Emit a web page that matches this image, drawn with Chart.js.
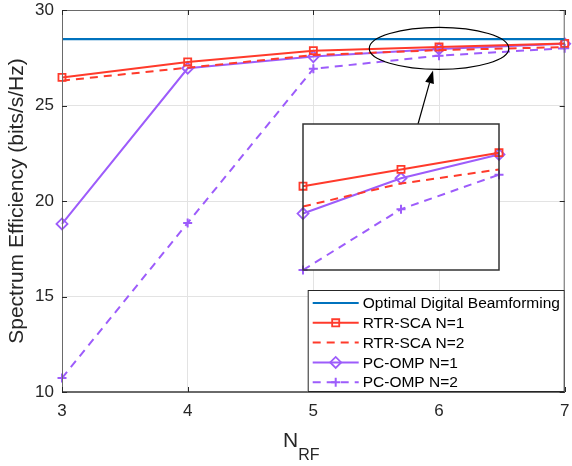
<!DOCTYPE html>
<html>
<head>
<meta charset="utf-8">
<script src="https://cdn.jsdelivr.net/npm/chart.js@4.4.1/dist/chart.umd.min.js"></script>
<style>
  html, body { margin: 0; padding: 0; background: #fff; }
  #wrap { position: relative; width: 572px; height: 466px; }
  #main { position: absolute; left: 0; top: 0; }
  #inset { position: absolute; left: 293px; top: 114px; }
</style>
</head>
<body>
<div id="wrap">
  <canvas id="main" width="572" height="466"></canvas>
  <canvas id="inset" width="216" height="166"></canvas>
</div>
<script>
// values
const nrf = [3, 4, 5, 6, 7];
const optimal = [28.48, 28.48, 28.48, 28.48, 28.48];
const rtrN1 = [26.47, 27.28, 27.87, 28.06, 28.25];
const rtrN2 = [26.3, 26.98, 27.64, 27.9, 28.06];
const ompN1 = [18.8, 26.95, 27.56, 27.96, 28.23];
const ompN2 = [10.73, 18.85, 26.92, 27.61, 28.0];
const seriesNames = ["Optimal Digital Beamforming", "RTR-SCA N=1", "RTR-SCA N=2", "PC-OMP N=1", "PC-OMP N=2"];
const yTicks = [10, 15, 20, 25, 30];
const xTicks = [3, 4, 5, 6, 7];

const FONT = "'Liberation Sans', Arial, Helvetica, sans-serif";
const TXT = "#262626";
const AXIS = "#6a6a6a";
const BLUE = "#0072BD";
const RED = "#FF3A2B";
const PURPLE = "#9D5CFB";

function pts(vals, from) {
  return nrf.slice(from).map((x, i) => ({ x: x, y: vals[from + i] }));
}

function makeDatasets(from) {
  return [
    { label: seriesNames[0], data: pts(optimal, from), borderColor: BLUE, borderWidth: 2.2, pointRadius: 0 },
    { label: seriesNames[1], data: pts(rtrN1, from), borderColor: RED, borderWidth: 2, pointStyle: "rect", pointRadius: 5, pointBorderWidth: 1.8 },
    { label: seriesNames[2], data: pts(rtrN2, from), borderColor: RED, borderWidth: 2, borderDash: [8, 6], pointRadius: 0 },
    { label: seriesNames[3], data: pts(ompN1, from), borderColor: PURPLE, borderWidth: 2, pointStyle: "rectRot", pointRadius: 5.5, pointBorderWidth: 1.8 },
    { label: seriesNames[4], data: pts(ompN2, from), borderColor: PURPLE, borderWidth: 2, borderDash: [8, 6], pointStyle: "cross", pointRadius: 4.5, pointBorderWidth: 2 }
  ].map(ds => Object.assign({
    fill: false, tension: 0, clip: false,
    pointBackgroundColor: "rgba(0,0,0,0)",
    pointBorderColor: ds.borderColor
  }, ds));
}

// box + inner tick marks, MATLAB style
const framePlugin = {
  id: "frame",
  afterDatasetsDraw(chart) {
    const { ctx, chartArea: a, scales } = chart;
    ctx.save();
    ctx.strokeStyle = AXIS;
    ctx.lineWidth = 1;
    ctx.setLineDash([]);
    ctx.strokeRect(a.left + 0.5, a.top + 0.5, a.right - a.left - 1, a.bottom - a.top - 1);
    ctx.strokeStyle = TXT;
    ctx.beginPath();
    xTicks.forEach(v => {
      const px = Math.round(scales.x.getPixelForValue(v)) + 0.5;
      ctx.moveTo(px, a.bottom); ctx.lineTo(px, a.bottom - 5);
      ctx.moveTo(px, a.top); ctx.lineTo(px, a.top + 5);
    });
    yTicks.forEach(v => {
      const py = Math.round(scales.y.getPixelForValue(v)) + 0.5;
      ctx.moveTo(a.left, py); ctx.lineTo(a.left + 5, py);
      ctx.moveTo(a.right, py); ctx.lineTo(a.right - 5, py);
    });
    ctx.stroke();
    ctx.restore();
  }
};

// ellipse marking the zoomed region and the arrow from the inset
const zoomMarkPlugin = {
  id: "zoomMark",
  afterDatasetsDraw(chart) {
    const { ctx, scales } = chart;
    const xs = scales.x, ys = scales.y;
    const cx = xs.getPixelForValue(6);
    const cy = ys.getPixelForValue(27.99);
    const rx = 0.555 * (xs.getPixelForValue(7) - cx);
    const ry = 21;
    ctx.save();
    ctx.strokeStyle = "#000";
    ctx.lineWidth = 1.2;
    ctx.setLineDash([]);
    ctx.beginPath();
    ctx.ellipse(cx, cy, rx, ry, 0, 0, Math.PI * 2);
    ctx.stroke();
    // arrow
    const tx = cx - 6, ty = cy + ry + 1;
    const fx = cx - 21, fy = ys.getPixelForValue(24.03);
    const ang = Math.atan2(ty - fy, tx - fx);
    const len = 13, hw = 4.5;
    const bx = tx - len * Math.cos(ang), by = ty - len * Math.sin(ang);
    ctx.beginPath();
    ctx.moveTo(fx, fy); ctx.lineTo(bx, by);
    ctx.stroke();
    ctx.fillStyle = "#000";
    ctx.beginPath();
    ctx.moveTo(tx, ty);
    ctx.lineTo(bx + hw * Math.sin(ang), by - hw * Math.cos(ang));
    ctx.lineTo(bx - hw * Math.sin(ang), by + hw * Math.cos(ang));
    ctx.closePath();
    ctx.fill();
    ctx.restore();
  }
};

// legend box in the lower right corner
const legendPlugin = {
  id: "mlLegend",
  afterDraw(chart) {
    const { ctx, chartArea: a } = chart;
    const w = 257, h = 102;
    const x0 = a.right - w, y0 = a.bottom - h;
    ctx.save();
    ctx.fillStyle = "#fff";
    ctx.fillRect(x0, y0, w, h);
    ctx.strokeStyle = TXT;
    ctx.lineWidth = 1;
    ctx.strokeRect(x0 + 0.5, y0 + 0.5, w - 1, h - 1);
    chart.data.datasets.forEach((ds, i) => {
      const cy = y0 + 13 + i * 19.8;
      ctx.strokeStyle = ds.borderColor;
      ctx.lineWidth = ds.borderWidth;
      ctx.setLineDash(ds.borderDash || []);
      ctx.beginPath();
      ctx.moveTo(x0 + 5, cy); ctx.lineTo(x0 + 51, cy);
      ctx.stroke();
      if (ds.pointRadius > 0) {
        ctx.setLineDash([]);
        ctx.fillStyle = "rgba(0,0,0,0)";
        ctx.lineWidth = ds.pointBorderWidth;
        Chart.helpers.drawPoint(ctx, { pointStyle: ds.pointStyle, radius: ds.pointRadius, borderWidth: ds.pointBorderWidth, rotation: 0 }, x0 + 28, cy);
      }
      ctx.fillStyle = "#000";
      ctx.font = "15.5px " + FONT;
      ctx.textAlign = "left";
      ctx.textBaseline = "middle";
      ctx.fillText(ds.label, x0 + 55, cy + 1);
    });
    ctx.restore();
  }
};

// x axis title with subscript
const xTitlePlugin = {
  id: "xTitle",
  afterDraw(chart) {
    const { ctx } = chart;
    ctx.save();
    ctx.fillStyle = TXT;
    ctx.textBaseline = "alphabetic";
    ctx.textAlign = "left";
    ctx.font = "21px " + FONT;
    const nx = 283;
    ctx.fillText("N", nx, 447);
    const nw = ctx.measureText("N").width;
    ctx.font = "16px " + FONT;
    ctx.fillText("RF", nx + nw, 460);
    ctx.restore();
  }
};

new Chart(document.getElementById("main").getContext("2d"), {
  type: "line",
  data: { datasets: makeDatasets(0) },
  options: {
    responsive: false,
    animation: false,
    devicePixelRatio: 1,
    layout: { padding: { left: 0, right: 5, top: 10, bottom: 0 } },
    plugins: { legend: { display: false }, tooltip: { enabled: false } },
    scales: {
      x: {
        type: "linear",
        min: 3, max: 7,
        afterFit(s) { s.height = 74; s.paddingLeft = 0; s.paddingRight = 0; },
        afterBuildTicks(s) { s.ticks = xTicks.map(v => ({ value: v })); },
        grid: { color: "#e3e3e3", drawTicks: false },
        border: { color: AXIS },
        ticks: { color: TXT, padding: 9, font: { family: FONT, size: 17 } }
      },
      y: {
        min: 10, max: 30,
        afterFit(s) { s.width = 62; s.paddingTop = 0; s.paddingBottom = 0; },
        afterBuildTicks(s) { s.ticks = yTicks.map(v => ({ value: v })); },
        grid: { color: "#e3e3e3", drawTicks: false },
        border: { color: AXIS },
        ticks: { color: TXT, padding: 8, font: { family: FONT, size: 17 } },
        title: {
          display: true,
          text: "Spectrum Efficiency (bits/s/Hz)",
          color: TXT,
          font: { family: FONT, size: 21 },
          padding: { top: 5, bottom: 0 }
        }
      }
    }
  },
  plugins: [framePlugin, zoomMarkPlugin, legendPlugin, xTitlePlugin]
});

// inset: zoom on N_RF = 5..7
const insetPlugin = {
  id: "insetBox",
  beforeDatasetsDraw(chart) {
    const { ctx, chartArea: a } = chart;
    ctx.save();
    ctx.fillStyle = "#fff";
    ctx.fillRect(a.left, a.top, a.right - a.left, a.bottom - a.top);
    ctx.restore();
  },
  afterDatasetsDraw(chart) {
    const { ctx, chartArea: a } = chart;
    ctx.save();
    ctx.strokeStyle = "#333";
    ctx.lineWidth = 1.5;
    ctx.setLineDash([]);
    ctx.strokeRect(a.left, a.top, a.right - a.left, a.bottom - a.top);
    ctx.restore();
  }
};

new Chart(document.getElementById("inset").getContext("2d"), {
  type: "line",
  data: { datasets: makeDatasets(2).slice(1) },
  options: {
    responsive: false,
    animation: false,
    devicePixelRatio: 1,
    layout: { padding: 10 },
    plugins: { legend: { display: false }, tooltip: { enabled: false } },
    scales: {
      x: { type: "linear", min: 5, max: 7, display: false },
      y: { min: 26.92, max: 28.575, display: false }
    }
  },
  plugins: [insetPlugin]
});
</script>
</body>
</html>
